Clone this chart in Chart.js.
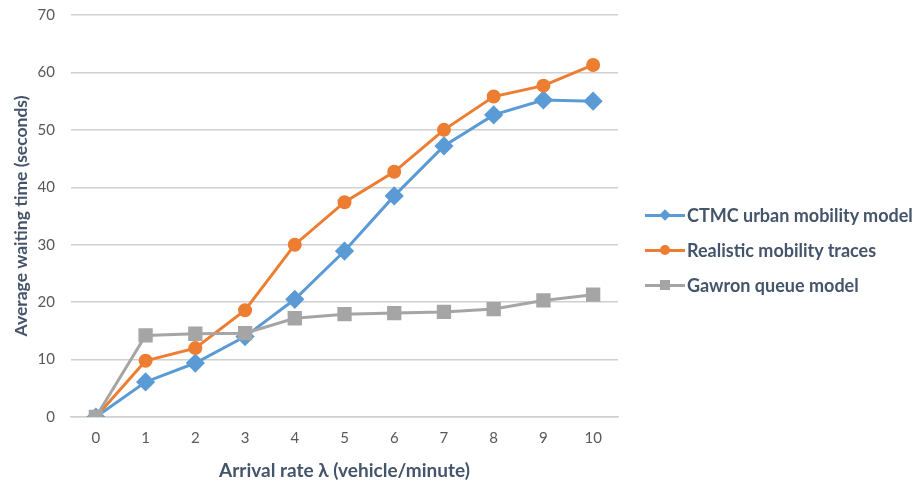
<!DOCTYPE html>
<html>
<head>
<meta charset="utf-8">
<script src="https://cdn.jsdelivr.net/npm/chart.js@4/dist/chart.umd.min.js"></script>
<style>
  body { margin: 0; background: #fff; }
  #wrap { position: relative; width: 917px; height: 482px; }
  #legend { position: absolute; left: 645px; top: 0; font-family: Lato, "Open Sans", sans-serif; font-weight: bold; font-size: 18px; color: #44546a; }
  .item { position: absolute; left: 0; white-space: nowrap; height: 22px; line-height: 22px; }
  .sample { position: absolute; left: 0; top: 10px; width: 40px; height: 3px; }
  .mark { position: absolute; left: 15px; top: -4px; width: 10px; height: 10px; }
  .label { position: absolute; left: 42px; top: 0; }
</style>
</head>
<body>
<div id="wrap">
  <canvas id="chart" width="917" height="482"></canvas>
  <div id="legend"></div>
</div>
<script>
const categories = ["0", "1", "2", "3", "4", "5", "6", "7", "8", "9", "10"];
const ctmcValues = [0, 6.1, 9.4, 14.0, 20.5, 28.9, 38.5, 47.2, 52.6, 55.2, 55.0];
const realisticValues = [0, 9.8, 12.0, 18.6, 30.0, 37.4, 42.7, 50.0, 55.8, 57.7, 61.3];
const gawronValues = [0, 14.2, 14.5, 14.6, 17.2, 17.9, 18.1, 18.3, 18.8, 20.3, 21.3];
const seriesNames = ["CTMC urban mobility model", "Realistic mobility traces", "Gawron queue model"];

const colors = ["#5b9bd5", "#ed7d31", "#a5a5a5"];
const textColor = "#44546a";
const tickColor = "#595959";
const gridColor = "#d0d0d0";
const fontFamily = "Lato, 'Open Sans', sans-serif";

const ctx = document.getElementById("chart").getContext("2d");

new Chart(ctx, {
  type: "line",
  data: {
    labels: categories,
    datasets: [
      {
        label: seriesNames[0],
        data: ctmcValues,
        borderColor: colors[0],
        backgroundColor: colors[0],
        borderWidth: 3,
        pointStyle: "rectRot",
        pointRadius: 7.5,
        order: 2,
      },
      {
        label: seriesNames[1],
        data: realisticValues,
        borderColor: colors[1],
        backgroundColor: colors[1],
        borderWidth: 3,
        pointStyle: "circle",
        pointRadius: 5.5,
        order: 1,
      },
      {
        label: seriesNames[2],
        data: gawronValues,
        borderColor: colors[2],
        backgroundColor: colors[2],
        borderWidth: 3,
        pointStyle: "rect",
        pointRadius: 8,
        order: 0,
      },
    ],
  },
  options: {
    responsive: false,
    animation: false,
    events: [],
    layout: { padding: { top: 15, right: 299, bottom: 0, left: 0 } },
    elements: {
      line: { tension: 0 },
      point: { borderWidth: 0 },
    },
    plugins: {
      legend: { display: false },
      tooltip: { enabled: false },
    },
    scales: {
      x: {
        offset: true,
        grid: { display: false, drawTicks: false },
        border: { display: true, color: gridColor, width: 1.5 },
        ticks: { color: tickColor, font: { family: fontFamily, size: 15 }, padding: 12 },
        title: {
          display: true,
          text: "Arrival rate λ (vehicle/minute)",
          color: textColor,
          font: { family: fontFamily, size: 19, weight: "bold" },
          padding: { top: 2, bottom: 0 },
        },
        afterFit: (scale) => { scale.height = 65; },
      },
      y: {
        min: 0,
        max: 70,
        ticks: { stepSize: 10, color: tickColor, font: { family: fontFamily, size: 15 }, padding: 16 },
        grid: { color: gridColor, lineWidth: 1.5, drawTicks: false },
        border: { display: false },
        title: {
          display: true,
          text: "Average waiting time (seconds)",
          color: textColor,
          font: { family: fontFamily, size: 17.5, weight: "bold" },
          padding: { top: 11, bottom: 6 },
        },
        afterFit: (scale) => {
          scale.width = 71;
          scale.paddingTop = 0; // let the top gridline sit at the padding edge
          scale.paddingBottom = 0;
        },
      },
    },
  },
});

// legend drawn as html, line sample with marker like the original
const legendTops = [204, 239, 274];
const markShapes = ["diamond", "circle", "square"];
const legend = document.getElementById("legend");
seriesNames.forEach((name, i) => {
  const item = document.createElement("div");
  item.className = "item";
  item.style.top = legendTops[i] + "px";
  let markStyle = `background:${colors[i]};`;
  if (markShapes[i] === "diamond") markStyle += "width:8px;height:8px;left:16px;top:-3px;transform:rotate(45deg);";
  if (markShapes[i] === "circle") markStyle += "border-radius:50%;";
  item.innerHTML = `
    <div class="sample" style="background:${colors[i]}"><div class="mark" style="${markStyle}"></div></div>
    <div class="label">${name}</div>
  `;
  legend.appendChild(item);
});
</script>
</body>
</html>
